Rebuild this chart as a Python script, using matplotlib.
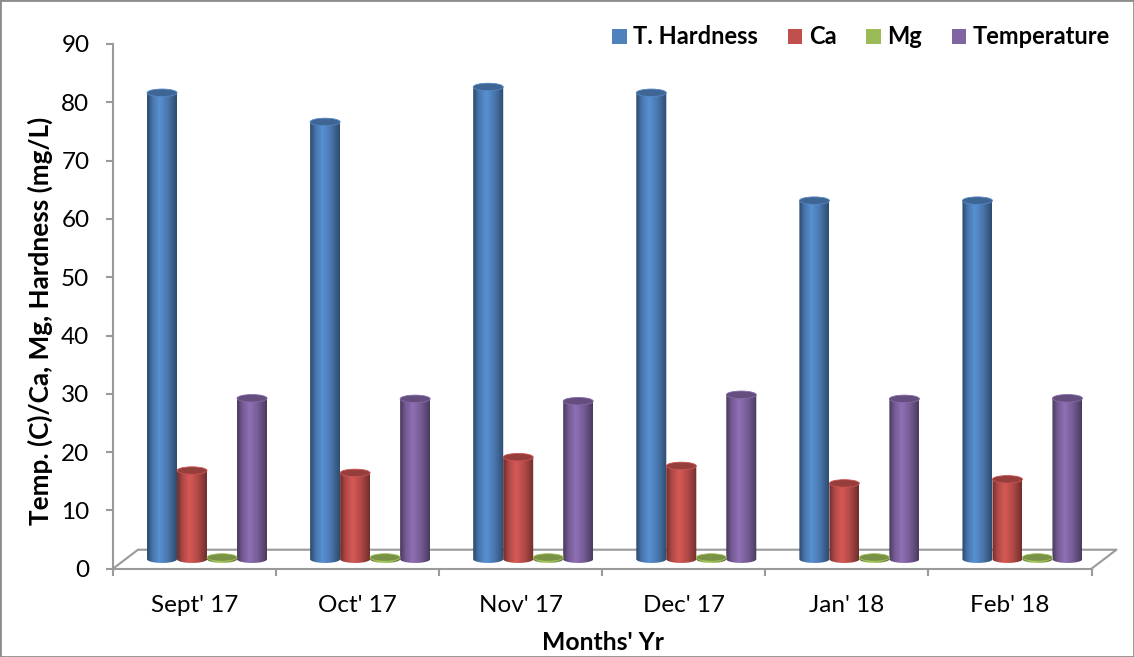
import numpy as np
import matplotlib
matplotlib.use('Agg')
import matplotlib.pyplot as plt
from matplotlib.patches import Ellipse, Polygon, Rectangle
from matplotlib.colors import LinearSegmentedColormap, to_rgb

# ---------------- data ----------------
months = ["Sept' 17", "Oct' 17", "Nov' 17", "Dec' 17", "Jan' 18", "Feb' 18"]
hardness = [80.0, 75.0, 81.0, 80.0, 61.5, 61.5]
ca = [15.2, 14.8, 17.5, 16.0, 13.0, 13.7]
mg = [0.3, 0.3, 0.3, 0.3, 0.3, 0.3]
temperature = [27.6, 27.5, 27.1, 28.2, 27.5, 27.6]
series_names = ['T. Hardness', 'Ca', 'Mg', 'Temperature']
y_ticks = [0, 10, 20, 30, 40, 50, 60, 70, 80, 90]
colors = ['#4F81BD', '#C0504D', '#9BBB59', '#8064A2']
series = [hardness, ca, mg, temperature]

FONT = 'Lato'
GREY = '#9a9a9a'
W, H = 1134, 657
fig = plt.figure(figsize=(W / 100, H / 100), dpi=100)
x0_px, x1_px, y0_px, y1_px = 113, 1091.5, 568.7, 44
ax = fig.add_axes([x0_px / W, (H - y0_px) / H, (x1_px - x0_px) / W, (y0_px - y1_px) / H])
ax.set_facecolor('none')

ncat = len(months)
px_cat = (x1_px - x0_px) / ncat
px_val = (y0_px - y1_px) / 90.0
DX = 25 / px_cat      # depth offset in category units
DY = 19 / px_val      # depth offset in value units
bar_w = 30 / px_cat
ell_h = 7.5 / px_val


def cylinder(xc, base, h, w, eh, color, z):
    c = np.array(to_rgb(color))
    dark_l = c * 0.55
    light = np.clip(c * 1.12, 0, 1)
    dark_r = c * 0.58
    cmap = LinearSegmentedColormap.from_list('g', [(0, dark_l), (0.18, c * 0.9), (0.42, light),
                                                   (0.7, c * 0.92), (1, dark_r)])
    t = np.linspace(np.pi, 2 * np.pi, 50)
    xs = xc + w / 2 * np.cos(t)
    ys = base + eh / 2 * np.sin(t)
    verts = [(xc - w / 2, base + h)] + list(zip(xs, ys)) + [(xc + w / 2, base + h)]
    poly = Polygon(verts, closed=True, facecolor='none', edgecolor='none', zorder=z)
    ax.add_patch(poly)
    grad = np.linspace(0, 1, 256).reshape(1, -1)
    im = ax.imshow(grad, cmap=cmap, extent=(xc - w / 2, xc + w / 2, base - eh / 2, base + h),
                   aspect='auto', zorder=z, interpolation='bilinear')
    im.set_clip_path(poly)
    cap = Ellipse((xc, base + h), w, eh, facecolor=c * 0.78, edgecolor=np.clip(c * 1.05, 0, 1),
                  linewidth=0.6, zorder=z + 0.1)
    ax.add_patch(cap)


# floor
ax.plot([0, DX, ncat + DX, ncat], [0, DY, DY, 0], color=GREY, lw=1.5, clip_on=False, zorder=1)

base = DY / 2
for i in range(ncat):
    cx = i + 0.5 + DX / 2
    for j, (vals, col) in enumerate(zip(series, colors)):
        xc = cx + (j - 1.5) * bar_w
        cylinder(xc, base, vals[i], bar_w, ell_h, col, 3 + j * 0.01)

ax.set_xlim(0, ncat)
ax.set_ylim(0, 90)

for s in ['top', 'right']:
    ax.spines[s].set_visible(False)
for s in ['left', 'bottom']:
    ax.spines[s].set_color(GREY)
    ax.spines[s].set_linewidth(1.5)

ax.set_yticks(y_ticks)
ax.set_yticklabels([str(v) for v in y_ticks], fontsize=17.5, family=FONT)
ax.tick_params(axis='y', direction='out', length=5, width=1.5, color=GREY, pad=12)
ax.set_xticks(np.arange(ncat + 1))
ax.set_xticklabels([])
ax.tick_params(axis='x', which='major', direction='out', length=5, width=1.5, color=GREY)
ax.set_xticks(np.arange(ncat) + 0.5, minor=True)
ax.set_xticklabels(months, minor=True, fontsize=17.5, family=FONT)
ax.tick_params(axis='x', which='minor', length=0, pad=19)

fig.text(40 / W, 1 - 321 / H, 'Temp. (C)/Ca, Mg, Hardness (mg/L)', rotation=90,
         ha='center', va='center', fontsize=18.8, fontweight='bold', family=FONT)
fig.text(603 / W, 1 - 643 / H, "Months' Yr", ha='center', va='center',
         fontsize=17.8, fontweight='bold', family=FONT)

handles = [Rectangle((0, 0), 1, 1, facecolor=c, edgecolor='none') for c in colors]
fig.legend(handles, series_names, ncol=4, loc='center right',
           bbox_to_anchor=(1110 / W, 1 - 37 / H), bbox_transform=fig.transFigure,
           frameon=False, borderaxespad=0, borderpad=0, handlelength=0.62, handleheight=0.62,
           handletextpad=0.28, columnspacing=1.25,
           prop={'family': FONT, 'weight': 'bold', 'size': 17})

fig.patches.append(Rectangle((0, 0), 1, 1, transform=fig.transFigure, fill=False,
                             edgecolor='#8c8c8c', lw=2))

fig.savefig('out.png', dpi=100)
